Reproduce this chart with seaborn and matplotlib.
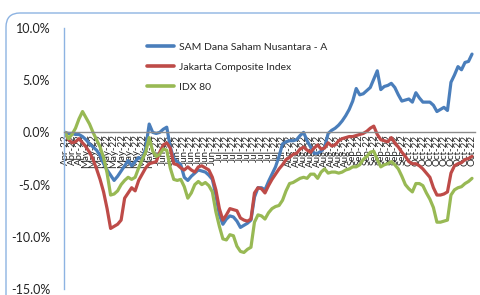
import matplotlib
matplotlib.use("Agg")
import matplotlib.pyplot as plt
from matplotlib.patches import FancyBboxPatch
import seaborn as sns
import pandas as pd

# daily returns since start (%)
sam_fund = [
    0.0, -0.1, -0.1, -0.2, -0.2, -0.4, -0.7, -1.1, -1.4, -1.7,
    -2.2, -3.0, -3.6, -4.1, -4.6, -4.2, -3.7, -3.2, -2.7, -3.2,
    -2.8, -2.4, -2.6, -1.5, 0.8, 0.0, -0.1, 0.0, 0.3, 0.5,
    -1.4, -2.5, -2.8, -3.1, -4.3, -4.6, -4.2, -3.9, -3.6, -3.7,
    -3.8, -4.1, -4.5, -6.0, -7.9, -8.8, -8.3, -8.0, -8.1, -8.5,
    -9.1, -8.9, -8.7, -8.4, -6.2, -5.3, -5.3, -5.5, -4.7, -4.0,
    -3.3, -2.3, -1.1, -0.9, -0.8, -0.8, -0.7, -0.3, 0.0, -0.8,
    -1.4, -2.0, -2.0, -1.8, -1.4, -0.1, 0.2, 0.4, 0.7, 1.1,
    1.6, 2.2, 3.0, 4.2, 3.6, 3.7, 4.0, 4.3, 5.1, 5.9,
    4.1, 4.4, 4.5, 4.7, 4.3, 3.6, 3.0, 3.1, 3.2, 2.9,
    3.8, 3.3, 2.9, 2.9, 2.9, 2.6, 2.0, 2.2, 2.4, 2.1,
    4.8, 5.5, 6.3, 6.0, 6.7, 6.8, 7.5,
]
jci = [
    0.0, -0.7, -1.0, -0.9, -0.6, -1.0, -1.4, -1.9, -2.6, -3.5,
    -4.5, -5.7, -7.3, -9.2, -9.0, -8.8, -8.4, -6.3, -5.8, -5.3,
    -5.6, -4.6, -4.0, -3.4, -3.0, -2.9, -2.8, -1.9, -1.2, -1.0,
    -1.5, -3.0, -3.1, -3.4, -3.6, -3.3, -3.6, -3.8, -3.3, -3.2,
    -3.4, -3.6, -4.3, -5.5, -7.3, -8.4, -7.9, -7.3, -7.4, -7.5,
    -8.2, -8.4, -8.5, -8.3, -5.8, -5.3, -5.4, -5.8, -5.1, -4.5,
    -4.0, -3.5, -3.1, -2.6, -2.4, -2.1, -2.0, -1.6, -1.4, -1.7,
    -1.9, -1.5, -1.2, -1.6, -1.5, -1.0, -1.3, -1.2, -0.8, -0.6,
    -0.5, -0.4, -0.4, -0.3, -0.2, -0.1, 0.1, 0.4, 0.6, -0.2,
    -0.7, -0.8, -0.9, -0.5, -1.0, -1.4, -1.9, -2.3, -2.8, -3.0,
    -3.0, -3.2, -3.5, -3.9, -4.3, -5.3, -6.0, -6.0, -5.9, -5.7,
    -3.9, -3.2, -3.0, -2.9, -2.6, -2.5, -2.3,
]
idx80 = [
    0.0, -0.6, -0.2, 0.4, 1.3, 2.0, 1.4, 0.8, 0.0, -0.7,
    -1.4, -2.4, -3.9, -6.0, -5.9, -5.6, -5.0, -4.6, -4.3, -4.5,
    -4.3, -3.4, -2.6, -1.9, -0.5, -1.8, -2.3, -2.1, -1.6, -1.7,
    -3.4, -4.5, -4.6, -4.5, -5.2, -6.3, -5.8, -5.0, -4.7, -5.0,
    -4.8, -5.1, -5.7, -7.6, -9.0, -10.2, -10.3, -9.8, -9.9, -10.9,
    -11.4, -11.5, -11.2, -11.0, -8.6, -7.9, -8.0, -8.3, -7.7, -7.3,
    -7.1, -7.0, -6.5, -5.6, -4.9, -4.8, -4.6, -4.4, -4.3, -4.4,
    -4.0, -4.0, -4.4, -3.8, -3.5, -3.9, -3.8, -3.8, -3.9, -3.8,
    -3.6, -3.5, -3.3, -3.3, -3.1, -2.6, -2.3, -1.9, -1.8, -2.6,
    -3.3, -3.1, -3.0, -2.8, -3.1, -3.5, -4.2, -5.0, -5.4, -5.7,
    -4.9, -4.9, -5.1, -5.8, -6.4, -7.2, -8.6, -8.6, -8.5, -8.4,
    -6.0, -5.5, -5.3, -5.2, -4.9, -4.7, -4.4,
]
series_names = ["SAM Dana Saham Nusantara - A", "Jakarta Composite Index", "IDX 80"]
colors = ["#4A7EBB", "#BE4B48", "#98B954"]

# one axis label every second trading day
month_labels = ["Apr-22"] * 3 + ["May-22"] * 10 + ["Jun-22"] * 9 + ["Jul-22"] * 10 \
    + ["Aug-22"] * 9 + ["Sep-22"] * 8 + ["Oct-22"] * 10
y_ticks = [-15, -10, -5, 0, 5, 10]

df = pd.DataFrame({
    series_names[0]: sam_fund,
    series_names[1]: jci,
    series_names[2]: idx80,
})
df["day"] = range(len(df))
long_df = df.melt(id_vars="day", var_name="series", value_name="ret")

sns.set_style("white")
plt.rcParams["font.family"] = ["Lato", "DejaVu Sans"]

fig = plt.figure(figsize=(4.8, 2.95), dpi=100)
ax = fig.add_axes([64 / 480, 6 / 295, 411 / 480, 261 / 295])

sns.lineplot(data=long_df, x="day", y="ret", hue="series", hue_order=series_names,
             palette=colors, linewidth=2.3, sort=False, ax=ax)

# spine position first: moving it resets the tick labels
for side in ["top", "right"]:
    ax.spines[side].set_visible(False)
ax.spines["bottom"].set_position(("data", 0))
ax.spines["bottom"].set_color("#8C8C8C")
ax.spines["bottom"].set_linewidth(1.0)
ax.spines["left"].set_color("#8DB3E2")
ax.spines["left"].set_linewidth(1.0)
# date labels sit under the lines, as in the original
ax.set_axisbelow(True)

ax.set_xlim(-0.28, 116.85)
ax.set_ylim(-15, 10)
ax.set_yticks(y_ticks)
ax.set_yticklabels([f"{t:.1f}%" for t in y_ticks], fontsize=9, color="#222222")
ax.set_xticks(range(0, len(df), 2))
ax.set_xticklabels(month_labels, rotation=90, fontsize=7, color="#222222")
ax.tick_params(axis="x", length=0, pad=1.5)
ax.tick_params(axis="y", length=0, pad=10)
ax.set_xlabel("")
ax.set_ylabel("")

leg = ax.legend(loc="upper left", bbox_to_anchor=(138 / 480, 1 - 33 / 295),
                bbox_transform=fig.transFigure, frameon=False, fontsize=7.5,
                handlelength=2.6, handletextpad=0.4, labelspacing=1.05)
for line in leg.get_lines():
    line.set_linewidth(2.6)

# rounded chart frame running off the right and bottom edges
frame = FancyBboxPatch((6, -20), 500, 302, boxstyle="round,pad=0,rounding_size=14",
                       transform=None, facecolor="none", edgecolor="#8DB3E2",
                       linewidth=1.0, clip_on=False)
fig.add_artist(frame)

fig.savefig("out.png", dpi=100)
